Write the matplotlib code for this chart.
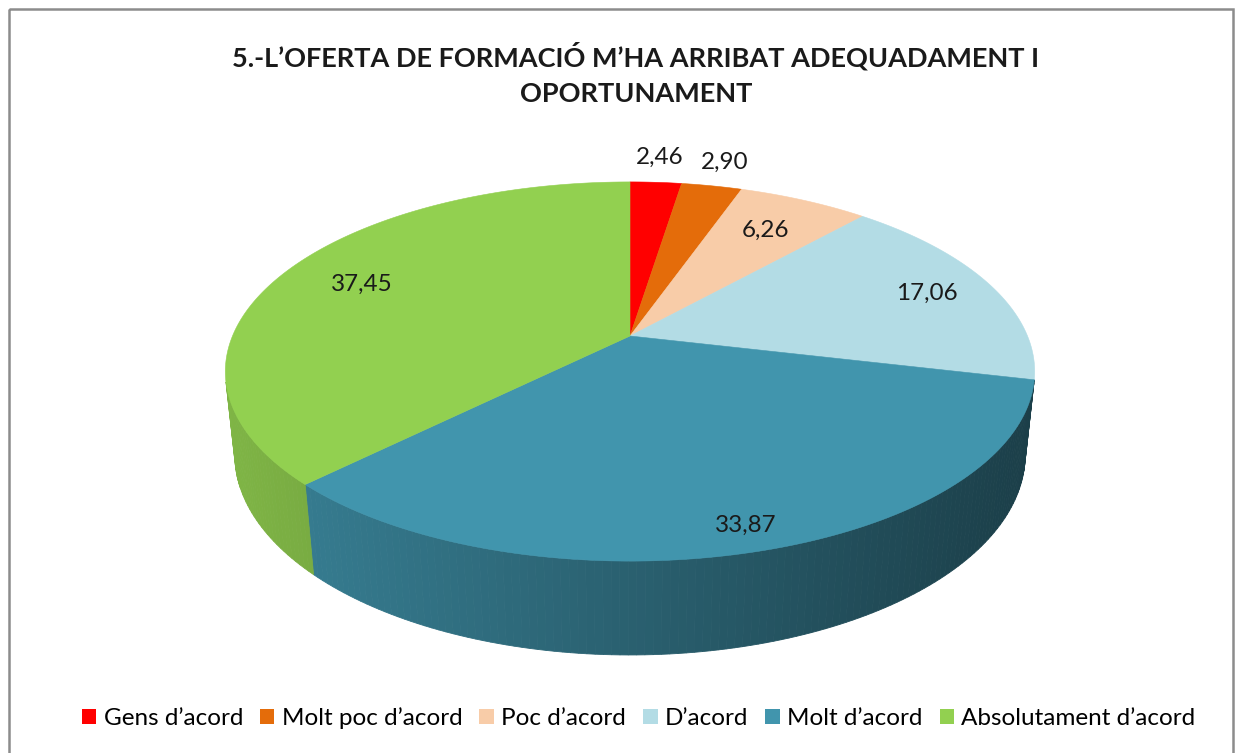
import numpy as np
import matplotlib
matplotlib.use('Agg')
import matplotlib.pyplot as plt
from matplotlib.patches import Polygon, Rectangle
from matplotlib.colors import to_rgb

# dades
categories = ['Gens d’acord', 'Molt poc d’acord', 'Poc d’acord', 'D’acord',
              'Molt d’acord', 'Absolutament d’acord']
values = [2.46, 2.90, 6.26, 17.06, 33.87, 37.45]
labels = ['2,46', '2,90', '6,26', '17,06', '33,87', '37,45']
colors = ['#FF0000', '#E46C0A', '#F8CCA8', '#B3DCE5', '#4195AD', '#92D050']
label_r = [1.2, 1.19, 0.75, 0.82, 0.9, 0.77]

title = '5.-L’OFERTA DE FORMACIÓ M’HA ARRIBAT ADEQUADAMENT I\nOPORTUNAMENT'

plt.rcParams['font.family'] = ['Lato', 'DejaVu Sans']

# projeccio en perspectiva (pastis 3D)
CX, CY = 630, 336
S = 397.5
D = 4.74
ALPHA = np.radians(27.4)
H = 0.237


def proj(psi, r=1.0, w=0.0):
    u = r * np.sin(psi)
    v = r * np.cos(psi)
    yc = v * np.sin(ALPHA) + w * np.cos(ALPHA)
    zc = D + v * np.cos(ALPHA) - w * np.sin(ALPHA)
    return CX + S * D * u / zc, CY - S * D * yc / zc


fig = plt.figure(figsize=(12.4, 7.53), dpi=100)
ax = fig.add_axes([0, 0, 1, 1])
ax.set_xlim(0, 1240)
ax.set_ylim(753, 0)
ax.axis('off')

tot = sum(values)
edges = np.concatenate([[0], np.cumsum(values)]) / tot * 2 * np.pi

# parets laterals
for i, c in enumerate(colors):
    base = np.array(to_rgb(c))
    a0, a1 = edges[i], edges[i + 1]
    n = max(2, int(np.degrees(a1 - a0)) + 2)
    ps = np.linspace(a0, a1, n)
    for p0, p1 in zip(ps[:-1], ps[1:]):
        pm = (p0 + p1) / 2
        if -1 - D * np.cos(ALPHA) * np.cos(pm) <= 0:
            continue
        quad = [proj(p0), proj(p1), proj(p1, w=-H), proj(p0, w=-H)]
        xm = proj(pm)[0]
        f = 0.87 - 0.45 * (xm - 226) / 809
        col = np.clip(base * f, 0, 1)
        ax.add_patch(Polygon(quad, closed=True, fc=col, ec=col, lw=0.6))

# cara superior
for i, c in enumerate(colors):
    a0, a1 = edges[i], edges[i + 1]
    ps = np.linspace(a0, a1, max(3, int(np.degrees(a1 - a0)) * 2))
    pts = [proj(0, r=0)] + [proj(p) for p in ps]
    ax.add_patch(Polygon(pts, closed=True, fc=c, ec=c, lw=0.4))

# etiquetes
for i, lbl in enumerate(labels):
    mid = (edges[i] + edges[i + 1]) / 2
    x, y = proj(mid, r=label_r[i])
    ax.text(x, y, lbl, ha='center', va='center', fontsize=17.5, color='#1a1a1a')

ax.text(636, 74, title, ha='center', va='center', fontsize=19.5,
        fontweight='bold', color='#1a1a1a', linespacing=1.6)

# marc
ax.add_patch(Rectangle((9, 9), 1224, 800, fill=False, ec='#8c8c8c', lw=1.8))

handles = [Rectangle((0, 0), 1, 1, fc=c, ec='none') for c in colors]
fig.legend(handles, categories, loc='center', bbox_to_anchor=(0.515, 1 - 718 / 753),
           ncol=6, frameon=False, fontsize=17.5, handlelength=0.6, handleheight=0.6,
           handletextpad=0.3, columnspacing=0.7)

fig.savefig('out.png', dpi=100)
